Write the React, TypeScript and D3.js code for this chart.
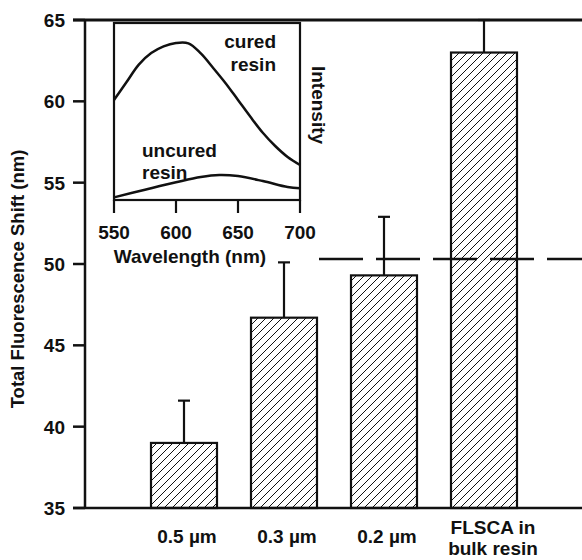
import React from "react";
import { scaleLinear, scaleBand, line, curveCatmullRom } from "d3";

// main bars
const categories = ["0.5 µm", "0.3 µm", "0.2 µm", "FLSCA in|bulk resin"];
const shiftValues = [39.0, 46.7, 49.3, 63.0];
const shiftErrors = [2.6, 3.4, 3.6, 2.0];
const referenceShift = 50.3;
const yTicks = [35, 40, 45, 50, 55, 60, 65];

// inset spectra
const curedWl = [550, 560, 570, 580, 590, 600, 610, 620, 630, 640, 650, 660, 670, 680, 690, 700];
const curedInt = [0.565, 0.665, 0.765, 0.83, 0.868, 0.887, 0.885, 0.828, 0.746, 0.66, 0.565, 0.47, 0.38, 0.305, 0.243, 0.198];
const uncuredWl = [550, 575, 600, 620, 635, 650, 670, 690, 700];
const uncuredInt = [0.015, 0.058, 0.1, 0.13, 0.141, 0.135, 0.107, 0.073, 0.066];
const wlTicks = [550, 600, 650, 700];

const W = 582;
const H = 560;
const font = "'Liberation Sans', Arial, Helvetica, sans-serif";
const ink = "#111";

function App() {
  const y = scaleLinear().domain([35, 65]).range([508, 20]);
  const x = scaleBand<string>()
    .domain(categories)
    .range([134, 534])
    .paddingInner(0.34)
    .paddingOuter(0.17);

  const ix = scaleLinear().domain([550, 700]).range([114, 300]);
  const iy = scaleLinear().domain([0, 1]).range([200, 23]);
  const spec = line<number>()
    .x((d) => ix(d))
    .curve(curveCatmullRom.alpha(0.5));
  const curedPath = spec.y((d, i) => iy(curedInt[i]))(curedWl);
  const uncuredPath = spec.y((d, i) => iy(uncuredInt[i]))(uncuredWl);

  const dashStart = (x(categories[1]) ?? 0) + x.bandwidth() + 2;

  return (
    <svg
      width={W}
      height={H}
      style={{ position: "absolute", left: 0, top: 0, background: "#fff" }}
      fontFamily={font}
      fontWeight="bold"
    >
      <defs>
        <pattern id="hatch" patternUnits="userSpaceOnUse" width={8} height={8}>
          <path d="M-2,2 l4,-4 M0,8 l8,-8 M6,10 l4,-4" stroke={ink} strokeWidth={1} />
        </pattern>
      </defs>

      {/* bars */}
      {categories.map((c, i) => {
        const x0 = x(c) ?? 0;
        const cx = x0 + x.bandwidth() / 2;
        const top = y(shiftValues[i] + shiftErrors[i]);
        return (
          <g key={c}>
            <line x1={cx} x2={cx} y1={y(shiftValues[i])} y2={top} stroke={ink} strokeWidth={2.2} />
            <line x1={cx - 6} x2={cx + 6} y1={top} y2={top} stroke={ink} strokeWidth={2.2} />
            <rect
              x={x0}
              y={y(shiftValues[i])}
              width={x.bandwidth()}
              height={y(35) - y(shiftValues[i])}
              fill="url(#hatch)"
              stroke={ink}
              strokeWidth={2.2}
            />
          </g>
        );
      })}

      {/* dashed reference */}
      <line x1={dashStart} x2={W} y1={y(referenceShift)} y2={y(referenceShift)} stroke={ink} strokeWidth={2.5} strokeDasharray="44 13" />

      {/* main axes */}
      <line x1={85} x2={85} y1={y(65)} y2={y(35)} stroke={ink} strokeWidth={2.5} />
      <line x1={73} x2={W} y1={y(35)} y2={y(35)} stroke={ink} strokeWidth={2.5} />
      <line x1={73} x2={W} y1={y(65)} y2={y(65)} stroke={ink} strokeWidth={3} />
      {yTicks.map((t) => (
        <g key={t}>
          <line x1={73} x2={85} y1={y(t)} y2={y(t)} stroke={ink} strokeWidth={2.5} />
          <text x={65} y={y(t)} dy="0.36em" textAnchor="end" fontSize={19} fill={ink}>
            {t}
          </text>
        </g>
      ))}
      <text transform="translate(24,279) rotate(-90)" textAnchor="middle" fontSize={18.5} fill={ink}>
        Total Fluorescence Shift (nm)
      </text>

      {/* category labels */}
      {categories.map((c) => {
        const cx = (x(c) ?? 0) + x.bandwidth() / 2 + 3;
        const parts = c.split("|");
        return parts.length === 1 ? (
          <text key={c} x={cx} y={543} textAnchor="middle" fontSize={19} fill={ink}>
            {parts[0]}
          </text>
        ) : (
          <text key={c} textAnchor="middle" fontSize={19} fill={ink}>
            <tspan x={cx + 6} y={534}>{parts[0]}</tspan>
            <tspan x={cx + 6} y={555}>{parts[1]}</tspan>
          </text>
        );
      })}

      {/* inset */}
      <rect x={ix(550)} y={iy(1)} width={ix(700) - ix(550)} height={iy(0) - iy(1)} fill="#fff" stroke={ink} strokeWidth={2.2} />
      {wlTicks.map((t) => (
        <g key={t}>
          <line x1={ix(t)} x2={ix(t)} y1={iy(0)} y2={iy(0) + 13} stroke={ink} strokeWidth={2.2} />
          <text x={ix(t)} y={239} textAnchor="middle" fontSize={19} fill={ink}>
            {t}
          </text>
        </g>
      ))}
      <text x={190} y={263} textAnchor="middle" fontSize={19} fill={ink}>
        Wavelength (nm)
      </text>
      <path d={curedPath ?? ""} fill="none" stroke={ink} strokeWidth={2.5} />
      <path d={uncuredPath ?? ""} fill="none" stroke={ink} strokeWidth={2.5} />
      <text textAnchor="end" fontSize={19} fill={ink}>
        <tspan x={276} y={48}>cured</tspan>
        <tspan x={276} y={71}>resin</tspan>
      </text>
      <text fontSize={19} fill={ink}>
        <tspan x={142} y={157}>uncured</tspan>
        <tspan x={142} y={179}>resin</tspan>
      </text>
      <text transform="translate(312,105) rotate(90)" textAnchor="middle" fontSize={19} fill={ink}>
        Intensity
      </text>
    </svg>
  );
}

export default App;
